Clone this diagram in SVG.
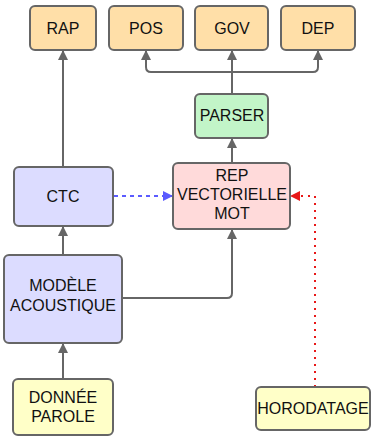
<svg xmlns="http://www.w3.org/2000/svg" width="371" height="436" viewBox="0 0 371 436">
<defs>
<style>
.n{stroke:#666;stroke-width:2}
.t{font-family:"Liberation Sans",Arial,sans-serif;font-size:16px;fill:#111;text-anchor:middle}
.c{fill:none;stroke:#666;stroke-width:2}
</style>
<marker id="ag" markerWidth="10" markerHeight="10" refX="9" refY="5" orient="auto" markerUnits="userSpaceOnUse"><path d="M0,0 L10,5 L0,10 z" fill="#666"/></marker>
<marker id="ab" markerWidth="10" markerHeight="10" refX="9" refY="5" orient="auto" markerUnits="userSpaceOnUse"><path d="M0,0 L10,5 L0,10 z" fill="#5b5bff"/></marker>
<marker id="ar" markerWidth="10" markerHeight="10" refX="9" refY="5" orient="auto" markerUnits="userSpaceOnUse"><path d="M0,0 L10,5 L0,10 z" fill="#e81818"/></marker>
</defs>
<rect width="371" height="436" fill="#fff"/>
<g id="connectors">
<path class="c" d="M63,167 V51" marker-end="url(#ag)"/>
<path class="c" d="M232,94 V72"/>
<path class="c" d="M146,51 V67 Q146,72 151,72 H313 Q318,72 318,67 V51" marker-end="url(#ag)"/>
<path class="c" d="M146,67 V51" marker-end="url(#ag)"/>
<path class="c" d="M232,72 V51" marker-end="url(#ag)"/>
<path class="c" d="M232,163 V139" marker-end="url(#ag)"/>
<path class="c" d="M63,255 V227" marker-end="url(#ag)"/>
<path class="c" d="M63,379 V344" marker-end="url(#ag)"/>
<path class="c" d="M122,298 H227 Q232,298 232,293 V230" marker-end="url(#ag)"/>
<path d="M114,196 H172" fill="none" stroke="#5b5bff" stroke-width="2" stroke-dasharray="4,4" marker-end="url(#ab)"/>
<path d="M315,387 V196 H291" fill="none" stroke="#e81818" stroke-width="2" stroke-dasharray="2,5" marker-end="url(#ar)"/>
</g>
<g id="RAP"><rect class="n" x="30" y="6" width="66" height="44" rx="5" fill="#ffdfa8"/><text class="t" x="63" y="34">RAP</text></g>
<g id="POS"><rect class="n" x="109" y="6" width="74" height="44" rx="5" fill="#ffdfa8"/><text class="t" x="146" y="34">POS</text></g>
<g id="GOV"><rect class="n" x="195" y="6" width="73" height="44" rx="5" fill="#ffdfa8"/><text class="t" x="232" y="34">GOV</text></g>
<g id="DEP"><rect class="n" x="281" y="6" width="74" height="44" rx="5" fill="#ffdfa8"/><text class="t" x="318" y="34">DEP</text></g>
<g id="PARSER"><rect class="n" x="195" y="94" width="73" height="44" rx="5" fill="#c2f5c8"/><text class="t" x="232" y="121">PARSER</text></g>
<g id="CTC"><rect class="n" x="14" y="167" width="99" height="59" rx="5" fill="#dcdcff"/><text class="t" x="63" y="202">CTC</text></g>
<g id="REP"><rect class="n" x="173" y="163" width="117" height="66" rx="5" fill="#ffdada"/><text class="t" x="232" y="181">REP</text><text class="t" x="232" y="200">VECTORIELLE</text><text class="t" x="232" y="219">MOT</text></g>
<g id="MODELE"><rect class="n" x="4" y="255" width="118" height="88" rx="5" fill="#dcdcff"/><text class="t" x="63" y="291">MODÈLE</text><text class="t" x="63" y="311">ACOUSTIQUE</text></g>
<g id="DONNEE"><rect class="n" x="13" y="379" width="100" height="56" rx="5" fill="#ffffc8"/><text class="t" x="63" y="403">DONNÉE</text><text class="t" x="63" y="422">PAROLE</text></g>
<g id="HORODATAGE"><rect class="n" x="256" y="387" width="114" height="43" rx="5" fill="#ffffc8"/><text class="t" x="313" y="414">HORODATAGE</text></g>
</svg>
